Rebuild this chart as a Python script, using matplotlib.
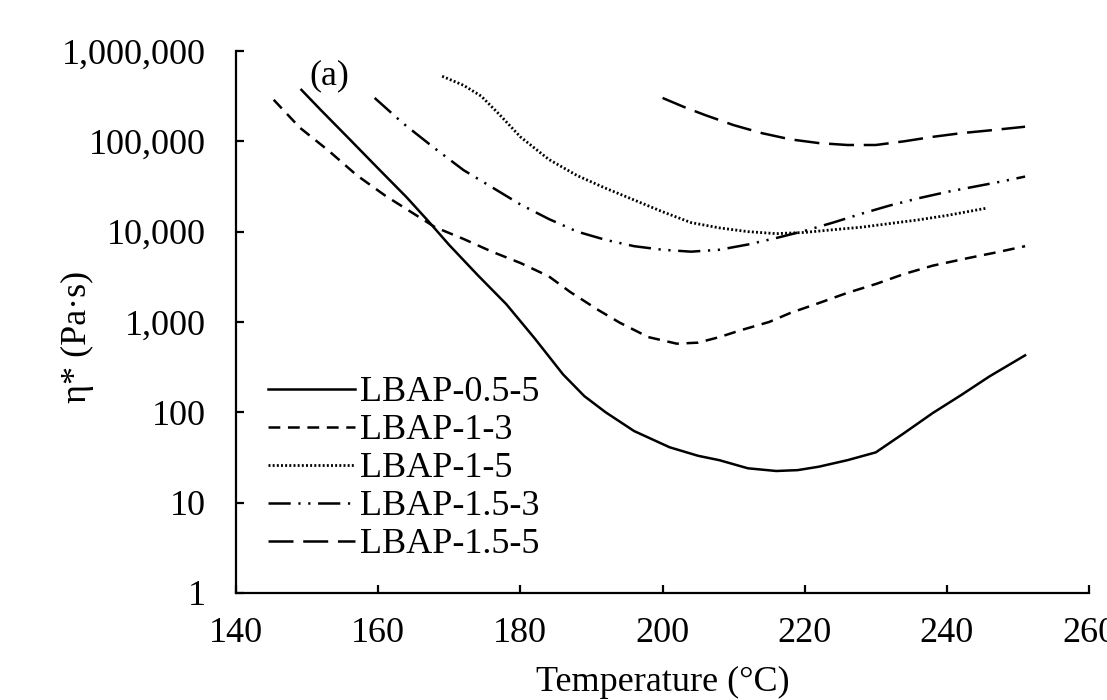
import matplotlib
matplotlib.use("Agg")
import matplotlib.pyplot as plt
from matplotlib.ticker import FuncFormatter

plt.rcParams['font.family'] = ['Liberation Serif', 'DejaVu Serif']
plt.rcParams['lines.scale_dashes'] = False

# LBAP-0.5-5
t_05_5 = [149.2, 152, 156, 160, 164, 167, 170, 174, 178, 182, 186, 189, 192, 196,
          201, 205, 208, 212, 216, 219, 222, 226, 230, 234, 238, 242, 246, 251]
eta_05_5 = [371000, 219000, 105000, 50000, 24000, 13200, 7100, 3300, 1580, 660, 263,
            151, 100, 62, 41, 33, 29.5, 24, 22.4, 22.9, 25, 29.5, 36, 59, 98, 155, 250,
            427]

# LBAP-1-3
t_1_3 = [145.3, 149, 153, 157, 161, 165, 168, 172, 176, 180, 184, 187, 191, 194, 198,
         202, 205, 208, 211, 215, 218, 222, 226, 230, 234, 238, 243, 247, 251]
eta_1_3 = [288000, 141000, 79000, 42000, 25000, 15800, 11200, 8300, 6000, 4500, 3200,
           2150, 1350, 980, 680, 575, 590, 680, 810, 1000, 1260, 1620, 2100, 2630, 3400,
           4200, 5100, 5900, 6900]

# LBAP-1-5
t_1_5 = [169, 172, 174.5, 177, 180, 184, 188, 192, 196, 200, 204, 208, 212, 216, 220,
         224, 228, 232, 236, 240, 245.6]
eta_1_5 = [525000, 417000, 316000, 200000, 112000, 63000, 41700, 30200, 22400, 16600,
           12600, 11000, 10000, 9500, 9800, 10500, 11200, 12300, 13500, 15100, 18200]

# LBAP-1.5-3
t_15_3 = [159.5, 163.5, 168, 172, 176, 180, 184, 188, 192, 196, 200, 204, 208, 212, 216,
          220, 224, 228, 232, 236, 240, 244, 248, 251]
eta_15_3 = [302000, 158000, 83000, 48000, 31000, 20000, 13800, 10000, 8100, 6900, 6300,
            6000, 6300, 7200, 8500, 10200, 12600, 15800, 19500, 23400, 27500, 31600,
            36300, 40700]

# LBAP-1.5-5
t_15_5 = [200, 203, 206, 210, 214, 218, 222, 226, 230, 234, 238, 242, 246, 251]
eta_15_5 = [302000, 240000, 195000, 151000, 123000, 105000, 95500, 91000, 91000, 100000,
            112000, 123000, 132000, 145000]

fig = plt.figure(figsize=(11.07, 7), dpi=100)
ax = fig.add_axes([0.2132, 0.1529, 0.7706, 0.7743])

lw = 1.8
ax.plot(t_05_5, eta_05_5, color='black', lw=lw, label='LBAP-0.5-5')
ax.plot(t_1_3, eta_1_3, color='black', lw=lw, dashes=(8.5, 5.5), label='LBAP-1-3')
ax.plot(t_1_5, eta_1_5, color='black', lw=2.0, dashes=(1.4, 1.6), label='LBAP-1-5')
ax.plot(t_15_3, eta_15_3, color='black', lw=lw, dashes=(16, 5.5, 1.6, 5.5, 1.6, 5.5),
        label='LBAP-1.5-3')
ax.plot(t_15_5, eta_15_5, color='black', lw=lw, dashes=(18, 7), label='LBAP-1.5-5')

ax.set_yscale('log')
ax.set_ylim(1, 1000000)
ax.set_xlim(140, 260)
ax.set_xticks([140, 160, 180, 200, 220, 240, 260])
ax.set_yticks([1, 10, 100, 1000, 10000, 100000, 1000000])
ax.yaxis.set_major_formatter(FuncFormatter(lambda v, p: f"{int(round(v)):,}"))
ax.minorticks_off()

for s in ['top', 'right']:
    ax.spines[s].set_visible(False)
for s in ['left', 'bottom']:
    ax.spines[s].set_linewidth(1.6)

ax.tick_params(axis='both', direction='in', length=6, width=1.6, labelsize=26)
ax.tick_params(axis='y', pad=22)
ax.tick_params(axis='x', pad=17)

ax.set_xlabel('Temperature (°C)', fontsize=26, labelpad=12)
ax.set_ylabel('η* (Pa·s)', fontsize=26)
ax.yaxis.set_label_coords(-0.167, 0.472)

ax.text(0.109, 0.955, '(a)', transform=ax.transAxes, fontsize=26, ha='center', va='center')

ax.legend(loc='upper left', bbox_to_anchor=(0.0375, 0.40), frameon=False, fontsize=26,
          handlelength=2.4, handletextpad=0.14, labelspacing=0.13, borderpad=0,
          borderaxespad=0)

fig.savefig('out.png', dpi=100)
